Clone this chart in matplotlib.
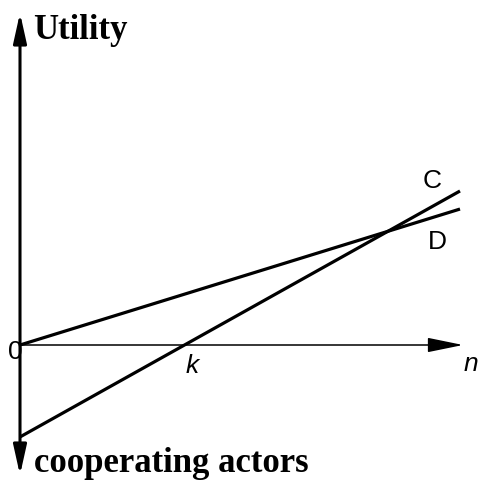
import numpy as np
import matplotlib.pyplot as plt

# number of cooperating actors (end points of the two straight lines)
n_vals = np.array([0.0, 10.0])
# utility of cooperating (C) and defecting (D)
util_C = np.array([-2.09, 3.50])
util_D = np.array([0.0, 3.09])
line_labels = ["C", "D"]

# pixel helpers: 44 px per unit, origin at (20, 345)
def px(x):
    return (x - 20) / 44.0

def py(y):
    return (345 - y) / 44.0

fig = plt.figure(figsize=(4.83, 4.83), dpi=100)
ax = fig.add_axes([0, 0, 1, 1])
ax.set_xlim(px(0), px(483))
ax.set_ylim(py(483), py(0))
ax.axis("off")

# axes arrows
ax.annotate("", xy=(px(463), 0), xytext=(0, 0),
            arrowprops=dict(arrowstyle="-|>,head_length=2.2,head_width=0.45",
                            mutation_scale=10, lw=1.1, color="black",
                            shrinkA=0, shrinkB=0))
ax.annotate("", xy=(0, py(13)), xytext=(0, py(475)),
            arrowprops=dict(arrowstyle="<|-|>,head_length=1.8,head_width=0.4",
                            mutation_scale=10, lw=2.2, color="black",
                            shrinkA=0, shrinkB=0))

# the two utility lines
ax.plot(n_vals, util_C, color="black", lw=2.3, solid_capstyle="butt")
ax.plot(n_vals, util_D, color="black", lw=2.3, solid_capstyle="butt")

sans = ["Liberation Sans", "DejaVu Sans"]
serif = ["Liberation Serif", "DejaVu Serif"]
ax.text(px(432), py(181), line_labels[0], family=sans, fontsize=19,
        ha="center", va="center")
ax.text(px(437), py(242), line_labels[1], family=sans, fontsize=19,
        ha="center", va="center")
ax.text(px(192), py(366), "k", family=sans, style="italic", fontsize=19,
        ha="center", va="center")
ax.text(px(471), py(364), "n", family=sans, style="italic", fontsize=19,
        ha="center", va="center")
ax.text(px(15), py(352), "0", family=sans, fontsize=19,
        ha="center", va="center")
ax.text(px(33), py(31), "Utility", family=serif, weight="bold", fontsize=25,
        ha="left", va="center")
ax.text(px(34), py(464), "cooperating actors", family=serif, weight="bold",
        fontsize=25, ha="left", va="center")

fig.savefig("out.png", dpi=100)
